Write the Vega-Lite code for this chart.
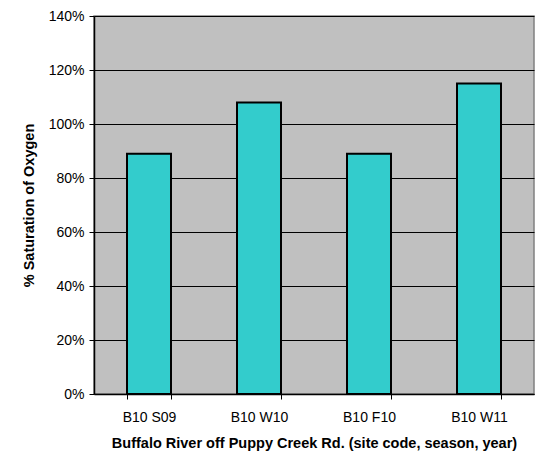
{
  "$schema": "https://vega.github.io/schema/vega-lite/v6.json",
  "autosize": "none",
  "width": 440,
  "height": 378,
  "padding": {"left": 94, "top": 16, "right": 5, "bottom": 62},
  "background": "white",
  "config": {
    "view": {"fill": "#C0C0C0", "stroke": "#808080", "strokeWidth": 1.5},
    "font": "Liberation Sans"
  },
  "data": {
    "values": [
      {"sample": "B10 S09", "saturation": 0.89},
      {"sample": "B10 W10", "saturation": 1.08},
      {"sample": "B10 F10", "saturation": 0.89},
      {"sample": "B10 W11", "saturation": 1.15}
    ]
  },
  "mark": {"type": "bar", "fill": "#33CCCC", "stroke": "black", "strokeWidth": 2},
  "encoding": {
    "x": {
      "field": "sample",
      "type": "nominal",
      "sort": null,
      "scale": {"paddingInner": 0.6, "paddingOuter": 0.3},
      "axis": {
        "title": "Buffalo River off Puppy Creek Rd. (site code, season, year)",
        "titleFont": "Liberation Sans",
        "titleFontWeight": "bold",
        "titleFontSize": 14.5,
        "titleColor": "black",
        "titlePadding": 12,
        "labelAngle": 0,
        "labelFontSize": 14,
        "labelColor": "black",
        "labelPadding": 11,
        "domainColor": "black",
        "domainWidth": 1.5,
        "tickColor": "black",
        "tickSize": 5,
        "tickBand": "extent",
        "grid": false
      }
    },
    "y": {
      "field": "saturation",
      "type": "quantitative",
      "scale": {"domain": [0, 1.4], "nice": false},
      "axis": {
        "title": "% Saturation of Oxygen",
        "titleFont": "Liberation Sans",
        "titleFontWeight": "bold",
        "titleFontSize": 14.5,
        "titleColor": "black",
        "titlePadding": 12,
        "values": [0, 0.2, 0.4, 0.6, 0.8, 1.0, 1.2, 1.4],
        "format": ".0%",
        "labelFontSize": 14,
        "labelColor": "black",
        "labelPadding": 5,
        "domainColor": "black",
        "domainWidth": 1.5,
        "tickColor": "black",
        "tickSize": 5,
        "grid": true,
        "gridColor": "black",
        "gridOpacity": 1,
        "gridWidth": 1
      }
    }
  }
}
